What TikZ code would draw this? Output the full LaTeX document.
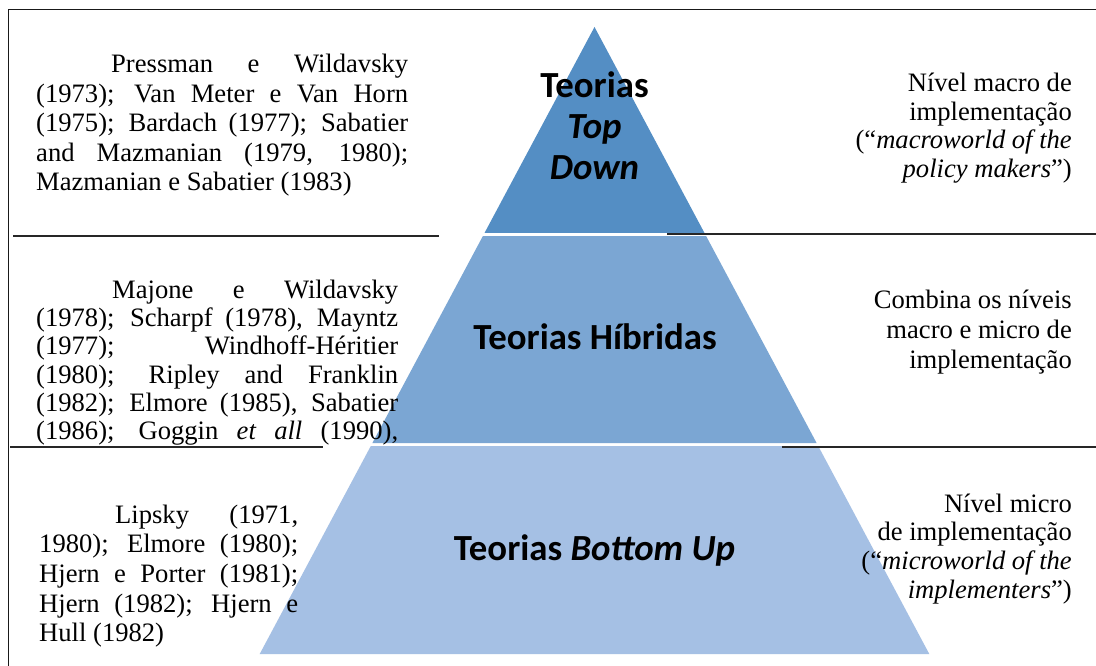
\documentclass[tikz,border=0pt]{standalone}
\usepackage{fontspec}
\setmainfont{Liberation Serif}
\newfontfamily\tierfont{Carlito}

\definecolor{tiertop}{RGB}{84,142,196}
\definecolor{tiermid}{RGB}{123,166,211}
\definecolor{tierlow}{RGB}{165,192,228}

% one justified line of a reference list, stretched to the full width
\newcommand\jline[1]{\noindent\makebox[\linewidth][s]{#1}\par}
\newcommand\rline[1]{\noindent#1\par}

\tikzset{
  refs/.style={anchor=base west, inner sep=0pt, font=\fontsize{26.6}{29.4}\selectfont},
  levelnote/.style={anchor=base east, inner sep=0pt, font=\fontsize{26.6}{29.4}\selectfont},
  tierlabel/.style={anchor=base, inner sep=0pt, font=\tierfont\bfseries\fontsize{36.8}{41}\selectfont},
  rule/.style={line width=1.4pt, black!85},
  frame/.style={line width=1.3pt, black!90}
}

\begin{document}
\begin{tikzpicture}[x=1pt, y=-1pt]
  \fill[white] (0,0) rectangle (1096,666);
  \useasboundingbox (0,0) rectangle (1096,666);

  % pyramid in three bands
  \fill[tiertop] (594.5,27) -- (704.5,233) -- (484.5,233) -- cycle;
  \fill[tiermid] (482.9,236) -- (706.1,236) -- (816.6,443) -- (372.4,443) -- cycle;
  \fill[tierlow] (370.8,446) -- (818.2,446) -- (929.3,654) -- (259.7,654) -- cycle;

  % outer frame
  \draw[frame] (8.5,9.5) -- (1096,9.5);
  \draw[frame] (8.5,9.5) -- (8.5,666);

  % band separators
  \coordinate (s1a) at (13,236);  \coordinate (s1b) at (439,236);
  \coordinate (s2a) at (667,234); \coordinate (s2b) at (1096,234);
  \coordinate (s3a) at (10,447);  \coordinate (s3b) at (323,447);
  \coordinate (s4a) at (782,447); \coordinate (s4b) at (1096,447);
  \draw[rule] (s1a) -- (s1b);
  \draw[rule] (s2a) -- (s2b);
  \draw[rule] (s3a) -- (s3b);
  \draw[rule] (s4a) -- (s4b);

  % tier labels
  \node[tierlabel] (ttop) at (594.5,98) {\parbox[t]{220pt}{\centering\baselineskip=41pt
      Teorias\\\itshape Top\\Down}};
  \node[tierlabel] (tmid) at (595,349) {Teorias Híbridas};
  \node[tierlabel] (tlow) at (594.5,560) {Teorias \textit{Bottom Up}};

  % authors per tier
  \node[refs] (rtop) at (36,73) {\parbox[t]{372pt}{\baselineskip=29.5pt
      \jline{\hspace*{75pt}Pressman e Wildavsky}
      \jline{(1973); Van Meter e Van Horn}
      \jline{(1975); Bardach (1977); Sabatier}
      \jline{and Mazmanian (1979, 1980);}
      \rline{Mazmanian e Sabatier (1983)}}};
  \node[refs] (rmid) at (36,298) {\parbox[t]{362pt}{\baselineskip=28.4pt
      \jline{\hspace*{76pt}Majone e Wildavsky}
      \jline{(1978); Scharpf (1978), Mayntz}
      \jline{(1977); Windhoff-Héritier}
      \jline{(1980); Ripley and Franklin}
      \jline{(1982); Elmore (1985), Sabatier}
      \jline{(1986); Goggin \textit{et all} (1990),}}};
  \node[refs] (rlow) at (39,523) {\parbox[t]{259pt}{\baselineskip=29.7pt
      \jline{\hspace*{76pt}Lipsky (1971,}
      \jline{1980); Elmore (1980);}
      \jline{Hjern e Porter (1981);}
      \jline{Hjern (1982); Hjern e}
      \rline{Hull (1982)}}};

  % implementation level per tier
  \node[levelnote] (ntop) at (1072,92) {\parbox[t]{320pt}{\raggedleft\baselineskip=28.4pt
      Nível macro de\\implementação\\(“\textit{macroworld of the}\\\textit{policy makers}”)}};
  \node[levelnote] (nmid) at (1072,308) {\parbox[t]{320pt}{\raggedleft\baselineskip=30pt
      Combina os níveis\\macro e micro de\\implementação}};
  \node[levelnote] (nlow) at (1072,512) {\parbox[t]{320pt}{\raggedleft\baselineskip=28.7pt
      Nível micro\\de implementação\\(“\textit{microworld of the}\\\textit{implementers}”)}};
\end{tikzpicture}
\end{document}
